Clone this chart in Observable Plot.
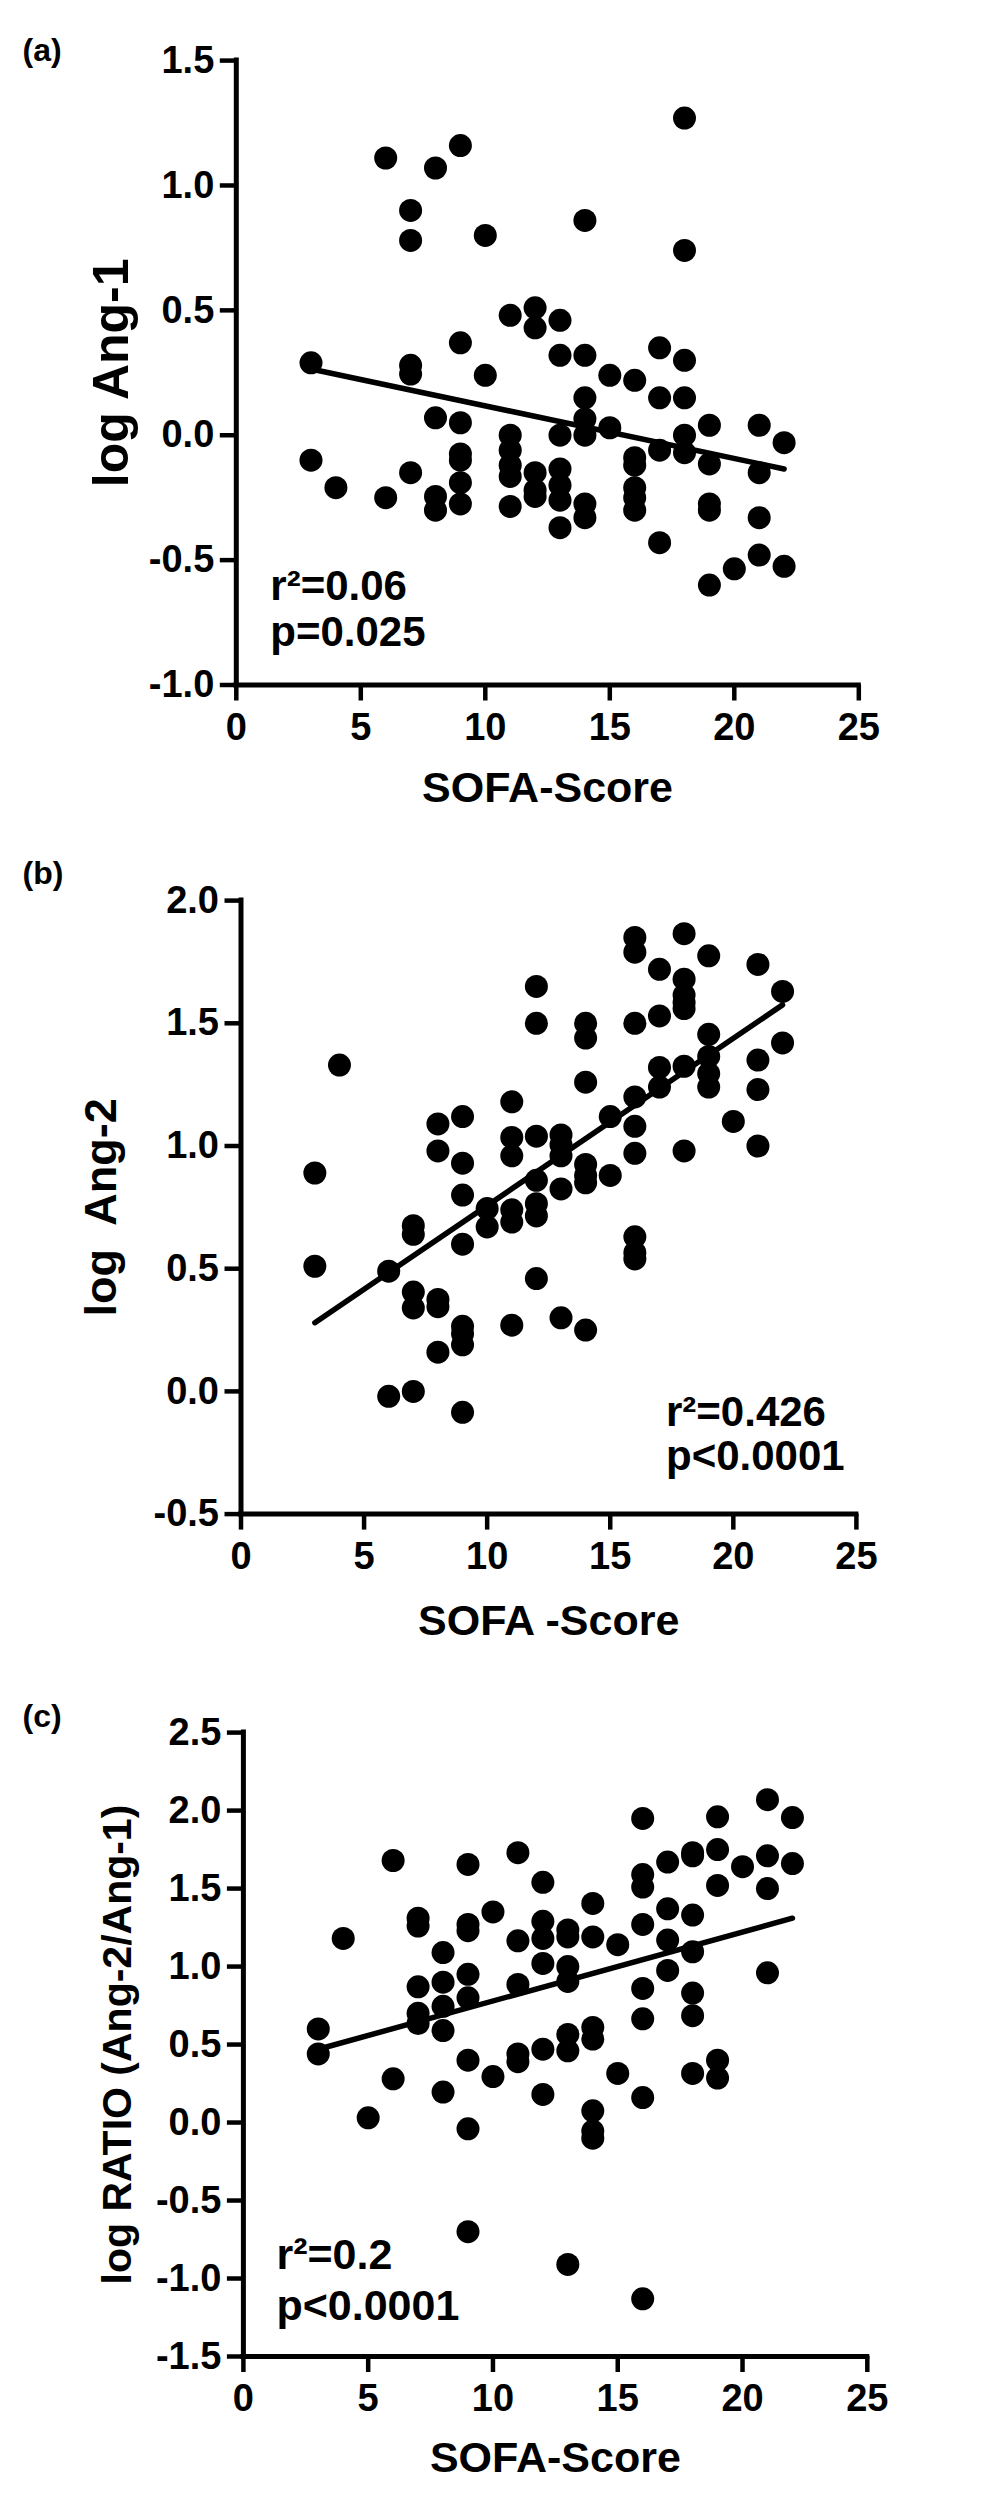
<!DOCTYPE html>
<html>
<head>
<meta charset="utf-8">
<script src="https://cdn.jsdelivr.net/npm/d3@7"></script>
<script src="https://cdn.jsdelivr.net/npm/@observablehq/plot@0.6"></script>
<style>
  html, body { margin: 0; padding: 0; background: #fff; }
  #chart { width: 1004px; }
  #chart svg { display: block; }
</style>
</head>
<body>
<div id="chart"></div>
<script>
// ---------- data ----------
const xTicks = [0, 5, 10, 15, 20, 25];
const yTicksA = [-1.0, -0.5, 0.0, 0.5, 1.0, 1.5];
const yTicksB = [-0.5, 0.0, 0.5, 1.0, 1.5, 2.0];
const yTicksC = [-1.5, -1.0, -0.5, 0.0, 0.5, 1.0, 1.5, 2.0, 2.5];

// (a) log Ang-1 vs SOFA score
const scoresA = [3, 4, 6, 7, 8, 9, 10, 11, 12, 13, 14, 15, 16, 17, 18, 19, 20, 21, 22];
const logAng1 = [
  [0.29, -0.10],
  [-0.21],
  [1.11, -0.25],
  [0.90, 0.78, 0.28, 0.245, -0.15],
  [1.07, 0.07, -0.245, -0.30],
  [1.16, 0.37, 0.05, -0.075, -0.10, -0.19, -0.275],
  [0.80, 0.24],
  [0.48, 0.0, -0.06, -0.12, -0.165, -0.285],
  [0.51, 0.43, -0.15, -0.22, -0.245],
  [0.46, 0.32, 0.0, -0.135, -0.20, -0.26, -0.37],
  [0.86, 0.32, 0.15, 0.065, 0.0, -0.275, -0.33],
  [0.24, 0.03],
  [0.22, -0.09, -0.12, -0.21, -0.25, -0.30],
  [0.35, 0.15, -0.06, -0.43],
  [1.27, 0.74, 0.30, 0.15, 0.0, -0.07],
  [0.04, -0.115, -0.275, -0.30, -0.60],
  [-0.535],
  [0.04, -0.15, -0.33, -0.48],
  [-0.03, -0.525]
];
const fitA = [{x: 3, y: 0.265}, {x: 22, y: -0.135}];

// (b) log Ang-2 vs SOFA score
const scoresB = [3, 4, 6, 7, 8, 9, 10, 11, 12, 13, 14, 15, 16, 17, 18, 19, 20, 21, 22];
const logAng2 = [
  [0.89, 0.51],
  [1.33],
  [0.49, -0.02],
  [0.675, 0.64, 0.405, 0.34, 0.0],
  [1.09, 0.98, 0.375, 0.345, 0.16],
  [1.12, 0.93, 0.80, 0.60, 0.265, 0.235, 0.19, -0.085],
  [0.745, 0.67],
  [1.18, 1.035, 0.96, 0.74, 0.69, 0.27],
  [1.65, 1.50, 1.04, 0.86, 0.765, 0.715, 0.46],
  [1.045, 1.005, 0.96, 0.825, 0.30],
  [1.50, 1.44, 1.26, 0.925, 0.88, 0.85, 0.25],
  [1.12, 0.88],
  [1.85, 1.79, 1.50, 1.20, 1.08, 0.97, 0.63, 0.565, 0.54],
  [1.72, 1.53, 1.32, 1.24],
  [1.865, 1.68, 1.615, 1.585, 1.56, 1.325, 0.98],
  [1.775, 1.455, 1.365, 1.295, 1.24],
  [1.10],
  [1.74, 1.35, 1.23, 1.00],
  [1.63, 1.42]
];
const fitB = [{x: 3, y: 0.28}, {x: 22, y: 1.575}];

// (c) log RATIO (Ang-2/Ang-1) vs SOFA score
const scoresC = [3, 4, 5, 6, 7, 8, 9, 10, 11, 12, 13, 14, 15, 16, 17, 18, 19, 20, 21, 22];
const logRatio = [
  [0.60, 0.44],
  [1.18],
  [0.03],
  [1.68, 0.28],
  [1.31, 1.26, 0.87, 0.70, 0.635],
  [1.09, 0.90, 0.745, 0.59, 0.195],
  [1.655, 1.27, 1.23, 0.95, 0.80, 0.40, -0.04, -0.70],
  [1.35, 0.295],
  [1.73, 1.165, 0.885, 0.44, 0.39],
  [1.54, 1.29, 1.18, 1.02, 0.47, 0.18],
  [1.235, 1.19, 1.0, 0.905, 0.565, 0.46, -0.91],
  [1.405, 1.19, 0.61, 0.535, 0.075, -0.055, -0.10],
  [1.14, 0.315],
  [1.95, 1.59, 1.51, 1.27, 0.86, 0.665, 0.16, -1.13],
  [1.67, 1.37, 1.17, 0.975],
  [1.73, 1.71, 1.33, 1.095, 0.83, 0.685, 0.315],
  [1.96, 1.75, 1.52, 0.40, 0.285],
  [1.64],
  [2.07, 1.71, 1.50, 0.96],
  [1.955, 1.66]
];
const fitC = [{x: 3, y: 0.47}, {x: 22, y: 1.31}];

// ---------- helpers ----------
const toPoints = (scores, values) =>
  scores.flatMap((s, i) => values[i].map(v => ({x: s, y: v})));

const FONT = "'Liberation Sans', Arial, Helvetica, sans-serif";

function panel(cfg) {
  const pts = toPoints(cfg.scores, cfg.values);
  const svg = Plot.plot({
    width: 1004,
    height: cfg.height,
    marginTop: cfg.mt, marginBottom: cfg.mb, marginLeft: cfg.ml, marginRight: cfg.mr,
    style: {fontFamily: FONT, fontWeight: "bold", fontSize: "38px", color: "#000", background: "#fff", overflow: "visible"},
    x: {domain: [0, 25]},
    y: {domain: cfg.ydomain},
    marks: [
      Plot.axisX({ticks: xTicks, tickSize: 16, tickPadding: 12, strokeWidth: 4.5, fontSize: 38,
                  tickFormat: d => String(d), label: null}),
      Plot.axisY({ticks: cfg.yticks, tickSize: 16, tickPadding: 6, strokeWidth: 4.5, fontSize: 38,
                  tickFormat: d => d.toFixed(1), label: null}),
      Plot.ruleX([0], {strokeWidth: 5, strokeLinecap: "square"}),
      Plot.ruleY([cfg.ydomain[0]], {strokeWidth: 5, strokeLinecap: "square"}),
      Plot.dot(pts, {x: "x", y: "y", r: 11.5, fill: "#000", stroke: "none"}),
      Plot.line(cfg.fit, {x: "x", y: "y", stroke: "#000", strokeWidth: 5.5, strokeLinecap: "round"}),
      Plot.text([cfg.xlabel], {text: d => d, frameAnchor: "bottom", dy: cfg.xlabelDy, lineAnchor: "bottom",
                               fontSize: 43, fontWeight: "bold"}),
      Plot.text([cfg.ylabel], {text: d => d, frameAnchor: "left", rotate: -90, dx: cfg.ylabelDx,
                               lineAnchor: "bottom", textAnchor: "middle", fontSize: cfg.ylabelSize,
                               fontWeight: "bold", ariaLabel: "ytitle"}),
      Plot.text([cfg.letter], {text: d => d, frameAnchor: "top-left", dx: 22 - cfg.ml, dy: cfg.letterDy,
                               textAnchor: "start", lineAnchor: "bottom", fontSize: 32, fontWeight: "bold"}),
      Plot.text([cfg.stats], {text: d => d, frameAnchor: "bottom-left", dx: cfg.statsDx, dy: cfg.statsDy,
                              textAnchor: "start", lineAnchor: "bottom", lineHeight: cfg.statsLH,
                              fontSize: cfg.statsSize, fontWeight: "bold"})
    ]
  });
  if (cfg.ylabelLen) {
    d3.select(svg).selectAll('g[aria-label="ytitle"] text')
      .attr("textLength", cfg.ylabelLen)
      .attr("lengthAdjust", "spacingAndGlyphs");
  }
  return svg;
}

const chart = document.getElementById("chart");

chart.appendChild(panel({
  scores: scoresA, values: logAng1, fit: fitA,
  height: 830, mt: 60.1, mb: 145.5, ml: 235.8, mr: 145.7,
  ydomain: [-1, 1.5], yticks: yTicksA,
  xlabel: "SOFA-Score", xlabelDy: 117,
  ylabel: "log Ang-1", ylabelDx: 127 - 235.8, ylabelSize: 50, ylabelLen: 189,
  letter: "(a)", letterDy: 0,
  stats: "r\u00b2=0.06\np=0.025", statsDx: 34, statsDy: -39, statsLH: 1.09, statsSize: 42
}));

chart.appendChild(panel({
  scores: scoresB, values: logAng2, fit: fitB,
  height: 830, mt: 70.1, mb: 146.4, ml: 240.5, mr: 148.1,
  ydomain: [-0.5, 2.0], yticks: yTicksB,
  xlabel: "SOFA -Score", xlabelDy: 121,
  ylabel: "log  Ang-2", ylabelDx: 115 - 240.5, ylabelSize: 45, ylabelLen: 203,
  letter: "(b)", letterDy: -17,
  stats: "r\u00b2=0.426\np<0.0001", statsDx: 425, statsDy: -44, statsLH: 1.055, statsSize: 42
}));

chart.appendChild(panel({
  scores: scoresC, values: logRatio, fit: fitC,
  height: 845, mt: 72.1, mb: 149, ml: 242.9, mr: 137.2,
  ydomain: [-1.5, 2.5], yticks: yTicksC,
  xlabel: "SOFA-Score", xlabelDy: 115,
  ylabel: "log RATIO (Ang-2/Ang-1)", ylabelDx: 130 - 242.9, ylabelSize: 41, ylabelLen: 463,
  letter: "(c)", letterDy: -6,
  stats: "r\u00b2=0.2\np<0.0001", statsDx: 33, statsDy: -36.5, statsLH: 1.19, statsSize: 43
}));
</script>
</body>
</html>
